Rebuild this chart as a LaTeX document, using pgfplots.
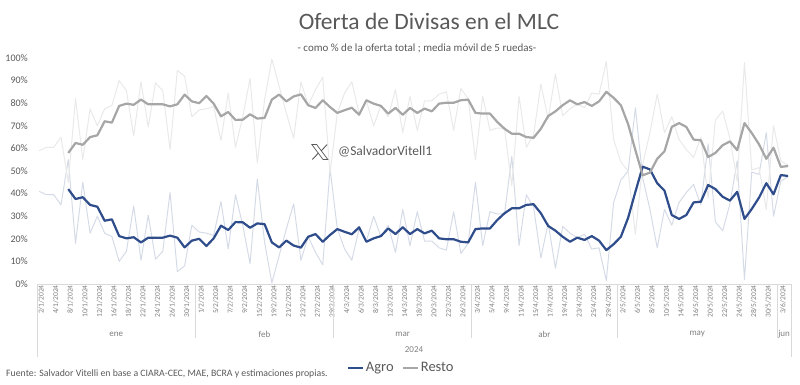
\documentclass[border=0pt]{standalone}
\usepackage{fontspec}
\setmainfont{Carlito}
\usepackage{pgfplots}
\pgfplotsset{compat=1.18}
\usepackage{pgfplotstable}
\definecolor{agroMA}{RGB}{47,76,139}
\definecolor{restoMA}{RGB}{166,166,166}
\definecolor{agroRaw}{RGB}{213,219,230}
\definecolor{restoRaw}{RGB}{233,233,233}
\definecolor{txtgray}{RGB}{89,89,89}
\definecolor{lblgray}{RGB}{128,128,128}
\definecolor{axgray}{RGB}{217,217,217}

\pgfplotstableread{
i agro resto
0 41 59
1 39.5 60.5
2 39.5 60.5
3 35 65
4 55 45
5 18 82
6 45 55
7 22.5 77.5
8 30 70
9 22.5 77.5
10 21 79
11 10 90
12 14.5 85.5
13 34.5 65.5
14 10.5 89.5
15 30.5 69.5
16 11 89
17 14.5 85.5
18 40.5 59.5
19 5.5 94.5
20 8 92
21 26 74
22 23 77
23 22.5 77.5
24 21.5 78.5
25 36.5 63.5
26 15.5 84.5
27 39.5 60.5
28 26 74
29 9 91
30 46.5 53.5
31 18.5 81.5
32 0.5 99.5
33 12.5 87.5
34 24.5 75.5
35 35.5 64.5
36 10.5 89.5
37 21 79
38 14 86
39 8.5 91.5
40 51 49
41 24.5 75.5
42 15.5 84.5
43 10.5 89.5
44 24.5 75.5
45 19 81
46 30 70
47 21 79
48 26 74
49 14 86
50 33 67
51 17 83
52 32 68
53 19 81
54 19 81
55 16 84
56 15 85
57 32 68
58 13.5 86.5
59 18 82
60 45 55
61 17 83
62 32 68
63 31 69
64 31 69
65 56.5 43.5
66 17 83
67 39.5 60.5
68 34 66
69 11.5 88.5
70 27 73
71 7 93
72 25.5 74.5
73 22.5 77.5
74 20.5 79.5
75 22 78
76 15.5 84.5
77 16 84
78 1.5 98.5
79 36 64
80 46 54
81 50 50
82 78 22
83 47 53
84 33 67
85 16 84
86 33 67
87 26 74
88 36 64
89 40.5 59.5
90 44 56
91 35 65
92 62 38
93 27.5 72.5
94 23.5 76.5
95 35.5 64.5
96 54.5 45.5
97 2 98
98 49.5 50.5
99 48.5 51.5
100 67 33
101 30 70
102 45.5 54.5
103 47.5 52.5
}\rawdata

\pgfplotstableread{
i agro resto
4 42 58
5 37.6 62.4
6 38.4 61.6
7 35 65
8 34.2 65.8
9 28 72
10 28.6 71.4
11 21.2 78.8
12 20.2 79.8
13 20.7 79.3
14 18.4 81.6
15 20.5 79.5
16 20.5 79.5
17 20.5 79.5
18 21.4 78.6
19 20.5 79.5
20 16.2 83.8
21 19.2 80.8
22 20 80
23 16.8 83.2
24 20.2 79.8
25 25.8 74.2
26 23.9 76.1
27 27.4 72.6
28 27.3 72.7
29 24.9 75.1
30 26.8 73.2
31 26.5 73.5
32 18.4 81.6
33 16.2 83.8
34 19.2 80.8
35 17 83
36 16.1 83.9
37 20.9 79.1
38 22.1 77.9
39 18.7 81.3
40 21.7 78.3
41 24.3 75.7
42 23.1 76.9
43 22 78
44 25.1 74.9
45 18.7 81.3
46 20.2 79.8
47 21.2 78.8
48 24.6 75.4
49 22.1 77.9
50 25.1 74.9
51 22.1 77.9
52 24.3 75.7
53 22.4 77.6
54 23.6 76.4
55 20.2 79.8
56 19.8 80.2
57 19.8 80.2
58 18.7 81.3
59 18.4 81.6
60 24.3 75.7
61 24.6 75.4
62 24.6 75.4
63 28.3 71.7
64 31.3 68.7
65 33.5 66.5
66 33.5 66.5
67 35 65
68 35.3 64.7
69 31.3 68.7
70 25.7 74.3
71 23.6 76.4
72 20.9 79.1
73 18.7 81.3
74 20.5 79.5
75 19.5 80.5
76 21.2 78.8
77 19.2 80.8
78 15 85
79 17.6 82.4
80 20.9 79.1
81 29.3 70.7
82 40.8 59.2
83 51.9 48.1
84 50.7 49.3
85 44.6 55.4
86 41.3 58.7
87 30.5 69.5
88 28.8 71.2
89 30.5 69.5
90 36.1 63.9
91 36.4 63.6
92 43.8 56.2
93 42 58
94 38.6 61.4
95 36.9 63.1
96 40.8 59.2
97 28.8 71.2
98 33.2 66.8
99 38.2 61.8
100 44.6 55.4
101 39.7 60.3
102 48.2 51.8
103 47.8 52.2
}\madata

\begin{document}
\begin{tikzpicture}
\path[use as bounding box] (0pt,0pt) rectangle (800pt,384pt);
\begin{axis}[
  at={(37pt,100pt)}, anchor=south west,
  scale only axis, width=754pt, height=226pt,
  xmin=-0.3, xmax=103.4, ymin=0, ymax=100,
  axis line style={draw=none},
  major tick length=0pt,
  clip=false,
  xtick={0,2,...,102},
  xticklabels={2/1/2024,4/1/2024,8/1/2024,10/1/2024,12/1/2024,16/1/2024,18/1/2024,22/1/2024,24/1/2024,26/1/2024,30/1/2024,1/2/2024,5/2/2024,7/2/2024,9/2/2024,15/2/2024,19/2/2024,21/2/2024,23/2/2024,27/2/2024,29/2/2024,4/3/2024,6/3/2024,8/3/2024,12/3/2024,14/3/2024,18/3/2024,20/3/2024,22/3/2024,26/3/2024,3/4/2024,5/4/2024,9/4/2024,11/4/2024,15/4/2024,17/4/2024,19/4/2024,23/4/2024,25/4/2024,29/4/2024,2/5/2024,6/5/2024,8/5/2024,10/5/2024,14/5/2024,16/5/2024,20/5/2024,22/5/2024,24/5/2024,28/5/2024,30/5/2024,3/6/2024},
  x tick label style={rotate=90, anchor=east, font=\fontsize{7.5}{8}\selectfont, text=lblgray, inner sep=1pt, yshift=-2pt},
  ytick={0,10,...,100},
  yticklabels={0\%,10\%,20\%,30\%,40\%,50\%,60\%,70\%,80\%,90\%,100\%},
  y tick label style={font=\fontsize{10}{12}\selectfont, text=txtgray, anchor=east, inner sep=0pt, xshift=-9pt},
  legend style={at={(0.483,-0.372)}, anchor=center, draw=none, fill=none,
    legend columns=2, font=\fontsize{14.5}{16}\selectfont, text=txtgray,
    nodes={inner sep=1.5pt},
    /tikz/every even column/.append style={column sep=7pt}},
  legend image code/.code={\draw[#1] (0pt,0pt) -- (15pt,0pt);},
  every axis plot/.append style={line join=round},
]
\addplot[agroRaw, line width=1pt, forget plot] table[x=i,y=agro]{\rawdata};
\addplot[restoRaw, line width=1pt, forget plot] table[x=i,y=resto]{\rawdata};
\addplot[agroMA, line width=2.2pt] table[x=i,y=agro]{\madata};
\addlegendentry{Agro}
\addplot[restoMA, line width=2.2pt] table[x=i,y=resto]{\madata};
\addlegendentry{Resto}
% axis line and category separators
\draw[axgray, line width=0.8pt] (axis cs:-0.3,0) -- (axis cs:103.4,0);
\draw[axgray, line width=0.8pt] (axis cs:-0.3,0) -- ++(0pt,-73pt);
\draw[axgray, line width=0.8pt] (axis cs:103.4,0) -- ++(0pt,-73pt);
\pgfplotsinvokeforeach{21.5,40.5,59.5,79.5,101.5}{
  \draw[axgray, line width=0.8pt] (axis cs:#1,0) -- ++(0pt,-54pt);
}
\node[font=\fontsize{9}{10}\selectfont, text=lblgray] at ([yshift=-50pt]axis cs:10.6,0) {ene};
\node[font=\fontsize{9}{10}\selectfont, text=lblgray] at ([yshift=-50pt]axis cs:31,0) {feb};
\node[font=\fontsize{9}{10}\selectfont, text=lblgray] at ([yshift=-50pt]axis cs:50,0) {mar};
\node[font=\fontsize{9}{10}\selectfont, text=lblgray] at ([yshift=-50pt]axis cs:69.5,0) {abr};
\node[font=\fontsize{9}{10}\selectfont, text=lblgray] at ([yshift=-50pt]axis cs:90.5,0) {may};
\node[font=\fontsize{9}{10}\selectfont, text=lblgray] at ([yshift=-50pt]axis cs:102.45,0) {jun};
\node[font=\fontsize{9}{10}\selectfont, text=lblgray] at ([yshift=-66pt]axis cs:51.55,0) {2024};
% watermark
\begin{scope}[shift={(axis cs:38.6,58.4)}]
  \draw[txtgray, line width=0.7pt, line join=miter] (-8pt,7.5pt) -- (-3.2pt,7.5pt) -- (8pt,-7.5pt) -- (3.2pt,-7.5pt) -- cycle;
  \draw[txtgray, line width=0.9pt] (-7.5pt,-7.5pt) -- (-1.3pt,-0.9pt);
  \draw[txtgray, line width=0.9pt] (1.3pt,1.1pt) -- (7.3pt,7.5pt);
\end{scope}
\node[anchor=west, font=\fontsize{13.5}{15}\selectfont, text=txtgray, inner sep=0pt] at (axis cs:41.1,58.4) {@SalvadorVitell1};
\end{axis}
\node[font=\fontsize{23.5}{28}\selectfont, text=txtgray] at (429pt,363pt) {Oferta de Divisas en el MLC};
\node[font=\fontsize{11}{13}\selectfont, text=txtgray] at (417pt,336pt) {- como \% de la oferta total ; media móvil de 5 ruedas-};
\node[anchor=west, font=\fontsize{9.8}{11}\selectfont, text=txtgray, inner sep=0pt] at (6pt,10pt) {Fuente: Salvador Vitelli en base a CIARA-CEC, MAE, BCRA y estimaciones propias.};
\end{tikzpicture}
\end{document}
